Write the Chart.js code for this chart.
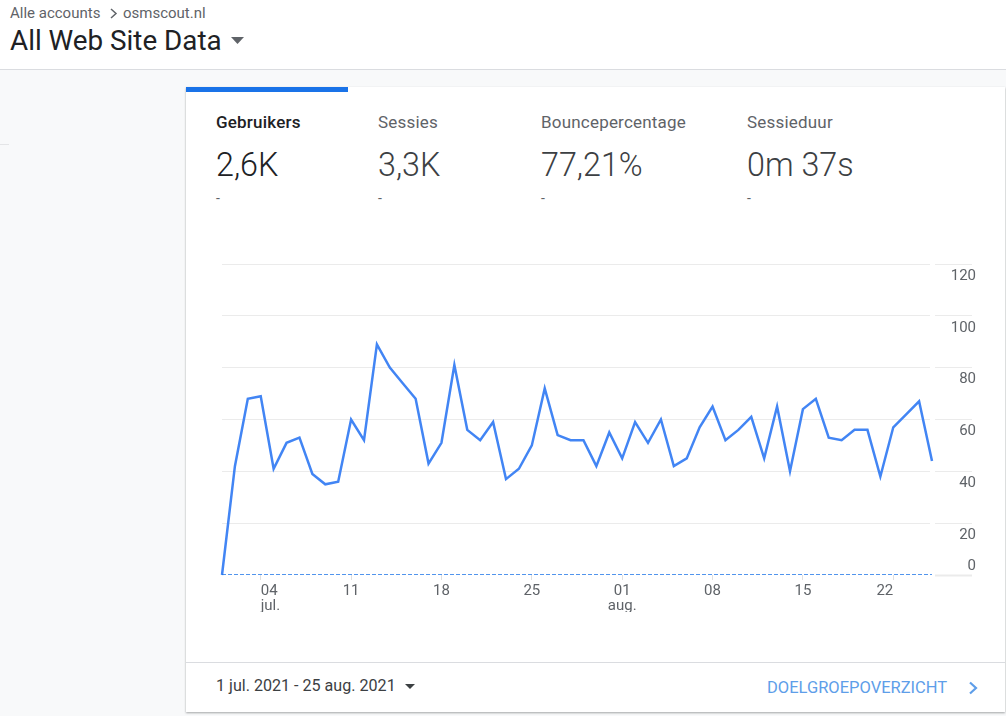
<!DOCTYPE html>
<html>
<head>
<meta charset="utf-8">
<script src="https://cdn.jsdelivr.net/npm/chart.js@4/dist/chart.umd.min.js"></script>
<style>
  html, body { margin: 0; padding: 0; width: 1006px; height: 716px; overflow: hidden; background: #f8f9fa; font-family: Roboto, sans-serif; }
  .abs { position: absolute; white-space: nowrap; }
  #header { position: absolute; left: 0; top: 0; width: 1006px; height: 69px; background: #fff; border-bottom: 1px solid #dadce0; }
  #stub { position: absolute; left: 0; top: 144px; width: 9px; height: 1px; background: #e4e5e7; }
  #card { position: absolute; left: 186px; top: 87px; width: 819px; height: 625px; background: #fff; box-shadow: 0 1px 2px rgba(60,64,67,.45); }
  #bar { position: absolute; left: 186px; top: 87px; width: 162px; height: 5px; background: #1a73e8; }
  #foot { position: absolute; left: 186px; top: 662px; width: 819px; height: 1px; background: #dadce0; }
  #wrap { position: absolute; left: 186px; top: 250px; width: 790px; height: 362px; }
  .tab { font-size: 17px; line-height: 20px; top: 112px; color: #5f6368; letter-spacing: .2px; }
  .val { font-size: 32.3px; line-height: 38px; top: 146px; color: #3c4043; font-weight: 300; }
  .dash { font-size: 14px; line-height: 16px; top: 190px; color: #5f6368; }
</style>
</head>
<body>
<div id="header"></div>
<div id="stub"></div>
<div class="abs" style="left:10px;top:5px;font-size:15px;line-height:16px;color:#5f6368">Alle accounts</div>
<svg class="abs" style="left:109px;top:8px" width="9" height="11"><path d="M2 1 L7 5.5 L2 10" fill="none" stroke="#5f6368" stroke-width="1.5"/></svg>
<div class="abs" style="left:123px;top:5px;font-size:15px;line-height:16px;color:#5f6368">osmscout.nl</div>
<div class="abs" style="left:10px;top:26px;font-size:27.8px;line-height:30px;color:#202124">All Web Site Data</div>
<svg class="abs" style="left:231px;top:37px" width="14" height="8"><path d="M0 0 H13 L6.5 7 Z" fill="#5f6368"/></svg>

<div id="card"></div>
<div id="bar"></div>
<div class="abs tab" style="left:216px;color:#202124;font-weight:500">Gebruikers</div>
<div class="abs tab" style="left:378px">Sessies</div>
<div class="abs tab" style="left:541px">Bouncepercentage</div>
<div class="abs tab" style="left:747px">Sessieduur</div>
<div class="abs val" style="left:216px;color:#202124">2,6K</div>
<div class="abs val" style="left:378px">3,3K</div>
<div class="abs val" style="left:541px">77,21%</div>
<div class="abs val" style="left:747px">0m 37s</div>
<div class="abs dash" style="left:216px">-</div>
<div class="abs dash" style="left:378px">-</div>
<div class="abs dash" style="left:541px">-</div>
<div class="abs dash" style="left:747px">-</div>

<div id="wrap"><canvas id="lineChart"></canvas></div>

<div id="foot"></div>
<div class="abs" style="left:216px;top:677px;font-size:16.1px;line-height:18px;color:#3c4043">1 jul. 2021 - 25 aug. 2021</div>
<svg class="abs" style="left:405px;top:684px" width="11" height="6"><path d="M0 0 H10 L5 5 Z" fill="#3c4043"/></svg>
<div class="abs" style="left:767px;top:679px;font-size:16.5px;line-height:18px;color:#5e9ee9">DOELGROEPOVERZICHT</div>
<svg class="abs" style="left:968px;top:681px" width="11" height="14"><path d="M2 1.5 L8 7 L2 12.5" fill="none" stroke="#5e9ee9" stroke-width="2.2"/></svg>

<script>
const categories = [
  '1 jul', '2 jul', '3 jul', '4 jul', '5 jul', '6 jul', '7 jul', '8 jul', '9 jul', '10 jul',
  '11 jul', '12 jul', '13 jul', '14 jul', '15 jul', '16 jul', '17 jul', '18 jul', '19 jul', '20 jul',
  '21 jul', '22 jul', '23 jul', '24 jul', '25 jul', '26 jul', '27 jul', '28 jul', '29 jul', '30 jul',
  '31 jul', '1 aug', '2 aug', '3 aug', '4 aug', '5 aug', '6 aug', '7 aug', '8 aug', '9 aug',
  '10 aug', '11 aug', '12 aug', '13 aug', '14 aug', '15 aug', '16 aug', '17 aug', '18 aug', '19 aug',
  '20 aug', '21 aug', '22 aug', '23 aug', '24 aug', '25 aug'
];
const gebruikers = [
  0, 42, 68, 69, 41, 51, 53, 39, 35, 36,
  60, 52, 89, 80, 74, 68, 43, 51, 81, 56,
  52, 59, 37, 41, 50, 72, 54, 52, 52, 42,
  55, 45, 59, 51, 60, 42, 45, 57, 65, 52,
  56, 61, 45, 65, 40, 64, 68, 53, 52, 56,
  56, 38, 57, 62, 67, 44
];
const vorigePeriode = [
  0, 0, 0, 0, 0, 0, 0, 0, 0, 0,
  0, 0, 0, 0, 0, 0, 0, 0, 0, 0,
  0, 0, 0, 0, 0, 0, 0, 0, 0, 0,
  0, 0, 0, 0, 0, 0, 0, 0, 0, 0,
  0, 0, 0, 0, 0, 0, 0, 0, 0, 0,
  0, 0, 0, 0, 0, 0
];
const tickDates = ['4 jul', '11 jul', '18 jul', '25 jul', '1 aug', '8 aug', '15 aug', '22 aug'];
const tickTexts = [['04', 'jul.'], ['11'], ['18'], ['25'], ['01', 'aug.'], ['08'], ['15'], ['22']];

// Analytics puts the y labels under their gridline (above it for 0) and pushes the outer x labels inwards
const labelTweaks = {
  id: 'labelTweaks',
  beforeDraw(chart) {
    chart.scales.x.getLabelItems().forEach((item, i) => {
      if (i === 0) item.options.textAlign = 'left';
      if (i === tickDates.length - 1) item.options.textAlign = 'right';
    });
    chart.scales.y.getLabelItems().forEach((item) => {
      const t = item.options.translation;
      const isZero = item.label === '0';
      item.options.textAlign = 'right';
      item.options.translation = [chart.width, t[1] + (isZero ? -9 : 12)];
    });
  },
};

const lineChart = document.querySelector('#lineChart');
const graph1 = new Chart(lineChart, {
  type: 'line',
  plugins: [labelTweaks],
  data: {
    labels: categories,
    datasets: [
      {
        label: 'Vorige periode',
        data: vorigePeriode,
        borderColor: '#1a73e8',
        borderWidth: 1.5,
        borderDash: [4, 2],
        pointRadius: 0,
      },
      {
        label: 'Gebruikers',
        data: gebruikers,
        borderColor: '#4285f4',
        borderWidth: 2.5,
        pointRadius: 0,
        tension: 0,
        clip: false,
      },
    ],
  },
  options: {
    responsive: true,
    maintainAspectRatio: false,
    animation: false,
    layout: { padding: { left: 36, top: 14, right: 0, bottom: 0 } },
    plugins: {
      legend: { display: false },
      tooltip: { enabled: false },
    },
    scales: {
      x: {
        offset: false,
        afterFit(scale) { scale.height = 37; },
        afterBuildTicks(scale) {
          scale.ticks = scale.ticks.filter((t) => tickDates.includes(categories[t.value]));
        },
        afterTickToLabelConversion(scale) {
          scale.ticks.forEach((t, i) => { t.label = tickTexts[i]; });
        },
        border: { display: false },
        grid: { drawOnChartArea: false, drawTicks: true, tickLength: 5, tickColor: '#e0e0e0' },
        ticks: {
          autoSkip: false,
          maxRotation: 0,
          padding: 4,
          color: '#5f6368',
          font: { family: 'Roboto', size: 15, lineHeight: 1 },
        },
      },
      y: {
        position: 'right',
        min: 0,
        max: 120,
        afterFit(scale) { scale.width = 44; },
        border: { display: true, color: '#ffffff', width: 5 },
        grid: {
          color: (ctx) => (ctx.tick.value === 0 ? 'transparent' : '#ebebeb'),
          lineWidth: 1,
          drawTicks: true,
          tickLength: 40,
          tickColor: '#ebebeb',
          tickWidth: (ctx) => (ctx.tick.value === 0 ? 2 : 1),
        },
        ticks: {
          stepSize: 20,
          padding: 0,
          color: '#5f6368',
          font: { family: 'Roboto', size: 15 },
        },
      },
    },
  },
});
</script>
</body>
</html>
